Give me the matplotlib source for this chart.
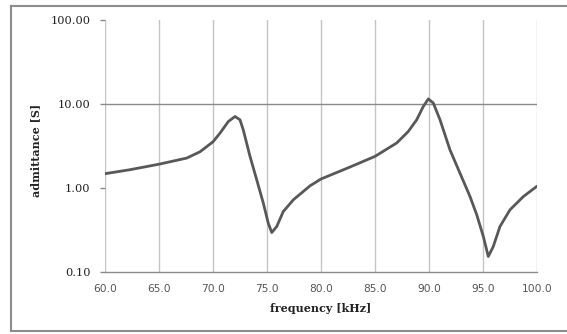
import matplotlib
matplotlib.use("Agg")
import matplotlib.pyplot as plt
from matplotlib.lines import Line2D
from matplotlib.ticker import FixedLocator, FixedFormatter, NullLocator

freq_khz = [60.0, 62.3, 65.0, 67.56, 68.8, 70.0, 70.65, 71.42, 72.04, 72.5,
            72.8, 73.43, 74.05, 74.66, 75.12, 75.44, 75.9, 76.51, 77.44, 78.98,
            80.0, 82.7, 85.0, 87.0, 87.31, 88.08, 88.86, 89.47, 89.94, 90.4,
            91.02, 91.94, 92.87, 93.8, 94.42, 95.03, 95.49, 95.95, 96.57, 97.5,
            98.73, 100.0]
admittance = [1.48, 1.65, 1.92, 2.27, 2.7, 3.55, 4.5, 6.19, 7.1, 6.48,
              4.93, 2.37, 1.25, 0.66, 0.38, 0.295, 0.348, 0.525, 0.724, 1.06,
              1.28, 1.78, 2.38, 3.43, 3.75, 4.71, 6.49, 9.34, 11.5, 10.25,
              6.49, 2.85, 1.5, 0.79, 0.48, 0.265, 0.153, 0.201, 0.348, 0.55,
              0.79, 1.05]

x_ticks = [60.0, 65.0, 70.0, 75.0, 80.0, 85.0, 90.0, 95.0, 100.0]
y_ticks = [0.1, 1.0, 10.0, 100.0]

serif = ["DejaVu Serif"]

fig = plt.figure(figsize=(5.67, 3.34), dpi=100)
ax = fig.add_axes([105 / 567, 1 - 272 / 334, 432 / 567, 252 / 334])

for xv in x_ticks:
    ax.axvline(xv, color="#c4c4c4", linewidth=1.0, zorder=1)
ax.axhline(10.0, color="#8a8a8a", linewidth=1.0, zorder=1)

ax.plot(freq_khz, admittance, color="#585858", linewidth=2.0, zorder=3,
        solid_capstyle="round", solid_joinstyle="round")

ax.set_yscale("log")
ax.set_xlim(60, 100)
ax.set_ylim(0.1, 100)

ax.yaxis.set_major_locator(FixedLocator(y_ticks))
ax.yaxis.set_major_formatter(FixedFormatter([f"{v:.2f}" for v in y_ticks]))
ax.yaxis.set_minor_locator(NullLocator())
ax.xaxis.set_major_locator(FixedLocator(x_ticks))
ax.xaxis.set_major_formatter(FixedFormatter([f"{v:.1f}" for v in x_ticks]))

for s in ["top", "right", "left"]:
    ax.spines[s].set_visible(False)
ax.spines["bottom"].set_color("#8a8a8a")
ax.spines["bottom"].set_linewidth(1.0)

ax.tick_params(axis="y", length=3.6, width=1.0, color="#8a8a8a", pad=7,
               labelsize=8.2, labelcolor="#222222")
ax.tick_params(axis="x", length=0, pad=9, labelsize=7.7, labelcolor="#555555")
for lbl in ax.get_yticklabels():
    lbl.set_family(serif)
for lbl in ax.get_xticklabels():
    lbl.set_family(["DejaVu Sans"])

fig.text(36 / 567, 1 - 150 / 334, "admittance [S]", rotation=90, ha="center",
         va="center", fontsize=8, fontweight="bold", family=serif, color="#222222")
fig.text(321 / 567, 1 - 309 / 334, "frequency [kHz]", ha="center", va="center",
         fontsize=8, fontweight="bold", family=serif, color="#222222")

# outer chart frame
frame = dict(color="#8c8c8c", linewidth=1.5, transform=fig.transFigure)
fig.add_artist(Line2D([11 / 567, 1.0], [1 - 6 / 334, 1 - 6 / 334], **frame))
fig.add_artist(Line2D([11 / 567, 11 / 567], [1 - 6 / 334, 1 - 331 / 334], **frame))
fig.add_artist(Line2D([11 / 567, 1.0], [1 - 331 / 334, 1 - 331 / 334], **frame))

fig.savefig("out.png", dpi=100)
